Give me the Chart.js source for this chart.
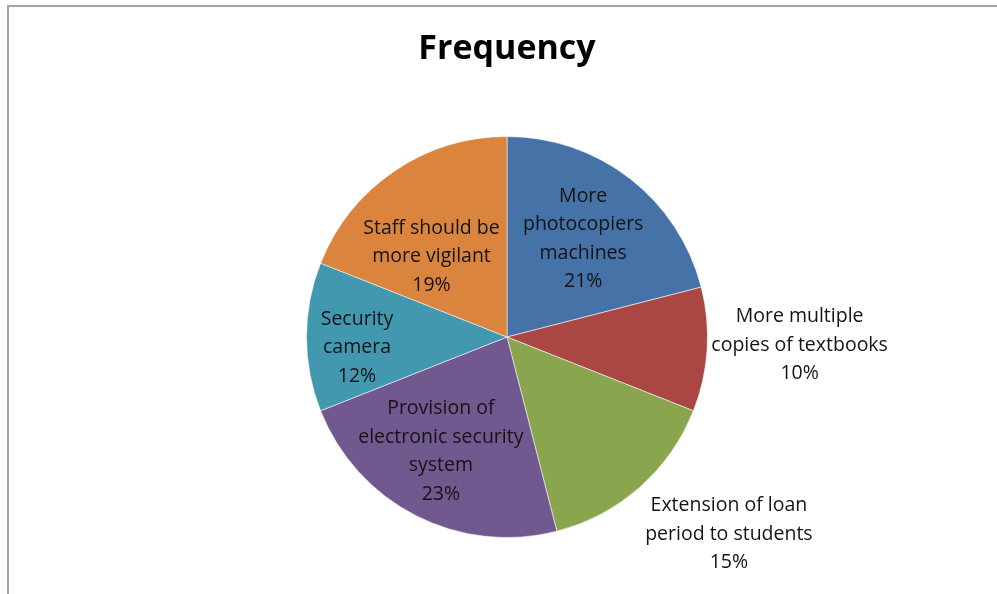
<!DOCTYPE html>
<html>
<head>
<meta charset="utf-8">
<script src="https://cdn.jsdelivr.net/npm/chart.js@4.4.1/dist/chart.umd.min.js"></script>
<style>
  html, body { margin: 0; padding: 0; background: #ffffff; overflow: hidden; }
  #wrap { position: absolute; left: 0; top: 0; width: 997px; height: 594px; }
  #frame { position: absolute; left: 7px; top: 5px; width: 1000px; height: 600px;
           border-left: 2px solid #a4a4a4; border-top: 2px solid #a4a4a4; }
  canvas { position: absolute; left: 0; top: 0; }
</style>
</head>
<body>
<div id="wrap">
  <div id="frame"></div>
  <canvas id="chart" width="997" height="594"></canvas>
</div>
<script>
// Survey answers and their share of responses (%)
const categories = [
  "More photocopiers machines",
  "More multiple copies of textbooks",
  "Extension of loan period to students",
  "Provision of electronic security system",
  "Security camera",
  "Staff should be more vigilant"
];
const labelLines = [
  ["More", "photocopiers", "machines"],
  ["More multiple", "copies of textbooks"],
  ["Extension of loan", "period to students"],
  ["Provision of", "electronic security", "system"],
  ["Security", "camera"],
  ["Staff should be", "more vigilant"]
];
const shares = [21, 10, 15, 23, 12, 19];
const sliceColors = ["#4572A7", "#AA4643", "#89A54E", "#71588F", "#4198AF", "#DB843D"];

// Where each data label sits: distance as a fraction of the radius, and a turn (degrees) off the slice's mid-angle
const labelPlacement = [
  { dist: 0.62, turn: 0 },
  { dist: 1.46, turn: -2 },
  { dist: 1.48, turn: -7 },
  { dist: 0.66, turn: 3 },
  { dist: 0.75, turn: -4 },
  { dist: 0.55, turn: -9 }
];

const LABEL_FONT = "19.5px 'Open Sans'";
const LINE_H = 28.5;

const sliceLabels = {
  id: "sliceLabels",
  afterDatasetsDraw(chart) {
    const ctx = chart.ctx;
    const meta = chart.getDatasetMeta(0);
    ctx.save();
    ctx.font = LABEL_FONT;
    ctx.fillStyle = "#141414";
    ctx.textAlign = "center";
    ctx.textBaseline = "middle";
    meta.data.forEach((arc, i) => {
      const p = arc.getProps(["x", "y", "startAngle", "endAngle", "outerRadius"], true);
      const place = labelPlacement[i];
      const mid = (p.startAngle + p.endAngle) / 2 + place.turn * Math.PI / 180;
      const cx = p.x + Math.cos(mid) * p.outerRadius * place.dist;
      const cy = p.y + Math.sin(mid) * p.outerRadius * place.dist;
      const lines = labelLines[i].concat([shares[i] + "%"]);
      const top = cy - (lines.length - 1) * LINE_H / 2;
      lines.forEach((t, k) => ctx.fillText(t, cx, top + k * LINE_H));
    });
    ctx.restore();
  }
};

new Chart(document.getElementById("chart"), {
  type: "pie",
  data: {
    labels: categories,
    datasets: [{
      data: shares,
      backgroundColor: sliceColors,
      borderColor: "rgba(255,255,255,0.55)",
      borderWidth: 1
    }]
  },
  options: {
    responsive: false,
    animation: false,
    events: [],
    layout: { padding: { left: 100, right: 83, top: 0, bottom: 56 } },
    plugins: {
      legend: { display: false },
      tooltip: { enabled: false },
      title: {
        display: true,
        text: "Frequency",
        color: "#000000",
        font: { family: "'Open Sans'", size: 34, weight: "bold", lineHeight: 1.2 },
        padding: { top: 28.5, bottom: 66.7 }
      }
    }
  },
  plugins: [sliceLabels]
});
</script>
</body>
</html>
